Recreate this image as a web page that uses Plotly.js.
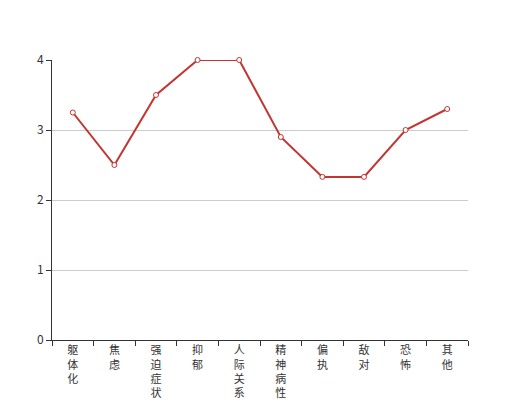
<!DOCTYPE html>
<html>
<head>
<meta charset="utf-8">
<script src="https://cdn.plot.ly/plotly-3.0.1.min.js"></script>
<style>html,body{margin:0;padding:0;background:#fff}#chart{width:520px;height:400px}</style>
</head>
<body>
<div id="chart"></div>
<script>
const categories = ['躯体化','焦虑','强迫症状','抑郁','人际关系敏感','精神病性','偏执','敌对','恐怖','其他'];
const scores = [3.25, 2.5, 3.5, 4, 4, 2.9, 2.33, 2.33, 3, 3.3];
const yTicks = [0, 1, 2, 3, 4];

const tickText = categories.map(c => c.split('').join('<br>'));

const trace = {
  type: 'scatter',
  mode: 'lines+markers',
  x: categories,
  y: scores,
  cliponaxis: false,
  line: {color: '#c23531', width: 2},
  marker: {symbol: 'circle', size: 5, color: '#ffffff', line: {color: '#c23531', width: 1}},
  hoverinfo: 'x+y'
};

const layout = {
  width: 520, height: 400,
  margin: {l: 52, r: 52, t: 60, b: 60},
  paper_bgcolor: '#ffffff', plot_bgcolor: '#ffffff',
  showlegend: false,
  font: {family: '"Noto Sans CJK SC", "Noto Sans", sans-serif', size: 12, color: '#333'},
  xaxis: {
    type: 'category',
    tickmode: 'array', tickvals: categories, ticktext: tickText,
    tickson: 'boundaries',
    ticks: 'outside', ticklen: 5, tickcolor: '#333', tickwidth: 1,
    showline: true, linecolor: '#333', linewidth: 1,
    showgrid: false, zeroline: false,
    tickangle: 0,
    tickfont: {size: 11, color: '#333'},
    range: [-0.5, categories.length - 0.5]
  },
  yaxis: {
    range: [0, 4],
    tickmode: 'array', tickvals: yTicks,
    ticks: 'outside', ticklen: 5, tickcolor: '#333', tickwidth: 1,
    showline: true, linecolor: '#333', linewidth: 1,
    showgrid: true, gridcolor: '#cccccc', gridwidth: 1,
    zeroline: false,
    tickfont: {size: 12, color: '#333'}
  }
};

Plotly.newPlot('chart', [trace], layout, {displayModeBar: false, staticPlot: true});
</script>
</body>
</html>
